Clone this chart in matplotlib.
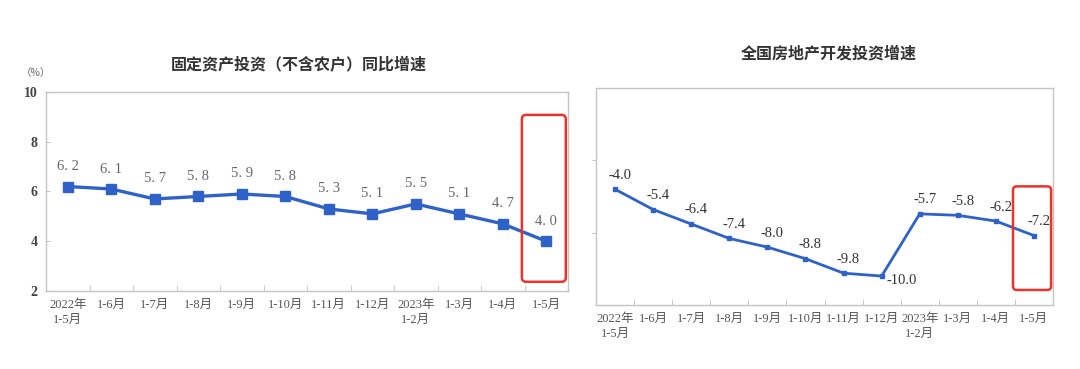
import matplotlib
matplotlib.use('Agg')
import matplotlib.pyplot as plt
from matplotlib.patches import FancyBboxPatch
from matplotlib.ticker import FixedLocator

plt.rcParams['font.family'] = ['Liberation Serif', 'Noto Sans CJK SC']

# 数据
cats = ['2022年\n1-5月', '1-6月', '1-7月', '1-8月', '1-9月', '1-10月',
        '1-11月', '1-12月', '2023年\n1-2月', '1-3月', '1-4月', '1-5月']
fai = [6.2, 6.1, 5.7, 5.8, 5.9, 5.8, 5.3, 5.1, 5.5, 5.1, 4.7, 4.0]
realestate = [-4.0, -5.4, -6.4, -7.4, -8.0, -8.8, -9.8, -10.0, -5.7, -5.8, -6.2, -7.2]

title_left = '固定资产投资（不含农户）同比增速'
title_right = '全国房地产开发投资增速'

blue = '#2f62c8'
red = '#e8342b'
frame = '#c4c4c4'
txt = '#555555'

W, H = 1080, 369
fig = plt.figure(figsize=(W / 100, H / 100), dpi=100)


def px_axes(x0, y0, x1, y1):
    return fig.add_axes([x0 / W, 1 - y1 / H, (x1 - x0) / W, (y1 - y0) / H])


def style_axes(ax):
    for s in ax.spines.values():
        s.set_color(frame)
        s.set_linewidth(1.0)
    ax.set_xlim(-0.5, len(cats) - 0.5)
    ax.set_xticks(range(len(cats)))
    ax.set_xticklabels(cats, fontsize=9, color=txt, linespacing=1.25)
    ax.tick_params(axis='x', length=0, pad=6)
    ax.xaxis.set_minor_locator(FixedLocator([i + 0.5 for i in range(len(cats) - 1)]))
    ax.tick_params(axis='x', which='minor', direction='in', length=4, color=frame)


# 左图
ax1 = px_axes(46, 92, 568, 291)
style_axes(ax1)
ax1.plot(range(len(fai)), fai, color=blue, lw=2.4, marker='s', ms=6.5)
ax1.set_ylim(2, 10)
ax1.set_yticks([2, 4, 6, 8, 10])
ax1.tick_params(axis='y', direction='in', length=3, color=frame,
                labelsize=10, labelcolor='#444444', pad=6)
for lab in ax1.get_yticklabels():
    lab.set_fontweight('bold')
for i, v in enumerate(fai):
    ax1.annotate(f'{v:.1f}'.replace('.', '. '), (i, v), xytext=(0, 20),
                 textcoords='offset pixels', ha='center', va='center',
                 fontsize=10.5, color='#666666')
n = len(fai) - 1
ax1.add_patch(FancyBboxPatch((n - 0.56, 2.37), 1.01, 6.71,
                             boxstyle='round,pad=0,rounding_size=0.1',
                             mutation_aspect=1.7, fill=False, ec=red, lw=1.8,
                             clip_on=False, zorder=5))
fig.text(299 / W, 1 - 65 / H, title_left, ha='center', va='center',
         fontsize=11.5, fontweight='bold', color='#333333',
         family=['Noto Sans CJK SC'])
fig.text(36 / W, 1 - 73 / H, '（%）', ha='center', va='center',
         fontsize=7.5, color='#666666', family=['Noto Sans CJK SC'])

# 右图
ax2 = px_axes(596, 88, 1053, 305)
style_axes(ax2)
ax2.plot(range(len(realestate)), realestate, color=blue, lw=2.0, marker='s', ms=3.5)
ax2.set_ylim(-12, 3)
ax2.set_yticks([-2, -7])
ax2.tick_params(axis='y', direction='out', length=3, color=frame, labelleft=False)
for i, v in enumerate(realestate):
    off = (20, -4) if v == min(realestate) else (5, 14)
    ax2.annotate(f'{v:.1f}', (i, v), xytext=off, textcoords='offset pixels',
                 ha='center', va='center', fontsize=10.5, color='#333333')
ax2.add_patch(FancyBboxPatch((n - 0.55, -10.96), 1.0, 7.16,
                             boxstyle='round,pad=0,rounding_size=0.1',
                             mutation_aspect=2.6, fill=False, ec=red, lw=1.8,
                             clip_on=False, zorder=5))
fig.text(829 / W, 1 - 53 / H, title_right, ha='center', va='center',
         fontsize=11.5, fontweight='bold', color='#333333',
         family=['Noto Sans CJK SC'])

fig.savefig('out.png', dpi=100, facecolor='white')
